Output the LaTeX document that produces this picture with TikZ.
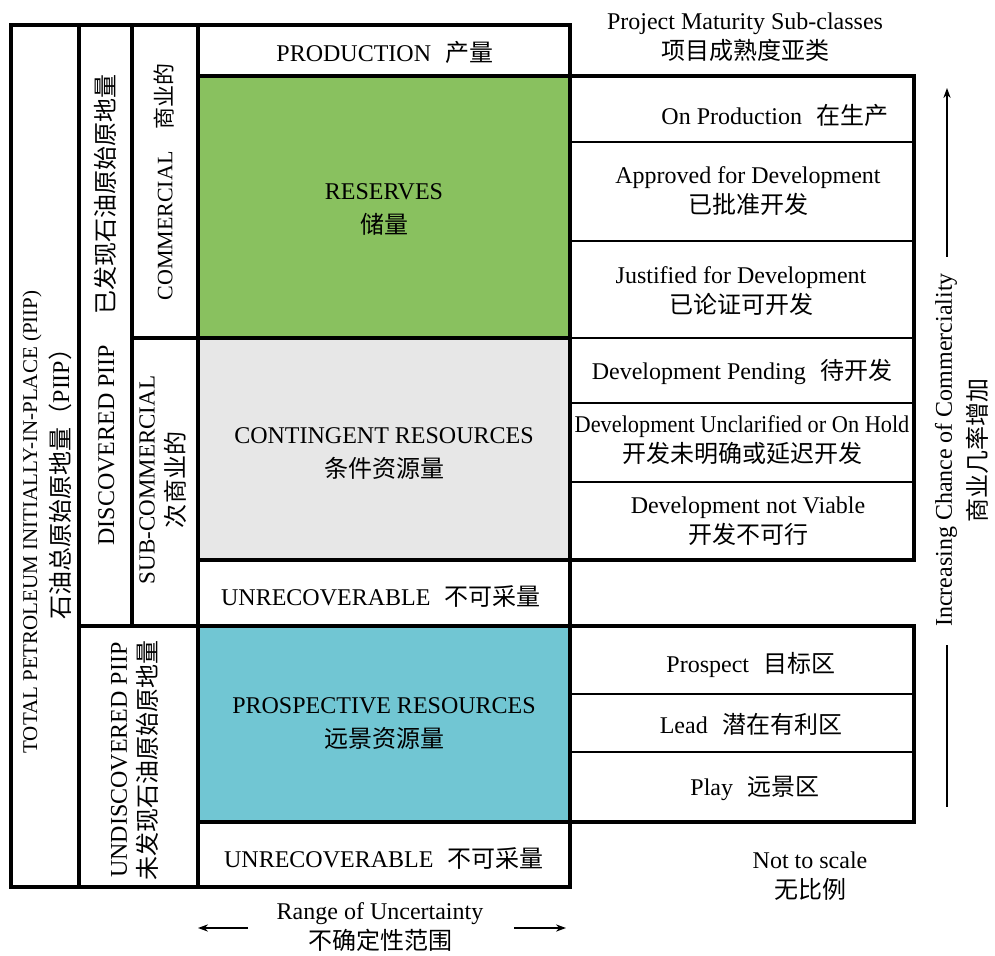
\documentclass[tikz,border=0pt]{standalone}
\usepackage{fontspec}
\usepackage{graphicx}
\setmainfont{Liberation Serif}
\newfontfamily\cjkfont{Noto Sans CJK SC}
\usetikzlibrary{arrows.meta}

% Chinese text is set in the CJK family
\newcommand\zh[1]{{\cjkfont #1}}
\newcommand\labelgap{\hspace{0.6em}}

\definecolor{reservegreen}{RGB}{137,193,95}
\definecolor{contgrey}{RGB}{231,231,231}
\definecolor{prospblue}{RGB}{113,198,211}

\tikzset{
  heavy/.style={line width=1.8pt},
  light/.style={line width=0.65pt},
  lbl/.style={inner sep=0pt, align=center, font=\fontsize{12}{17}\selectfont},
  sublbl/.style={inner sep=0pt, align=center, font=\fontsize{12}{15}\selectfont},
  vlbl/.style={inner sep=0pt, align=center, rotate=90},
  uarrow/.style={line width=0.6pt, -{Stealth[length=5pt,width=3.6pt]}},
  plainline/.style={line width=0.6pt}
}

\begin{document}
\begin{tikzpicture}[x=0.5pt,y=-0.5pt]
\useasboundingbox (0,0) rectangle (995,956);

% ---- coloured resource classes ----
\fill[reservegreen] (198,76) rectangle (570,338);
\fill[contgrey] (198,338) rectangle (570,560);
\fill[prospblue] (198,626) rectangle (570,822);

% ---- project maturity sub-class dividers ----
\draw[light] (570,142) -- (914,142);
\draw[light] (570,241) -- (914,241);
\draw[light] (570,338) -- (914,338);
\draw[light] (570,403) -- (914,403);
\draw[light] (570,482) -- (914,482);
\draw[light] (570,694) -- (914,694);
\draw[light] (570,752) -- (914,752);

% ---- main frame ----
\draw[heavy] (11,25) rectangle (570,887);
\draw[heavy] (79,25) -- (79,887);
\draw[heavy] (132,25) -- (132,626);
\draw[heavy] (198,25) -- (198,887);
\draw[heavy] (79,626) -- (570,626);
\draw[heavy] (132,338) -- (570,338);
\draw[heavy] (198,76) -- (570,76);
\draw[heavy] (198,560) -- (570,560);
\draw[heavy] (198,822) -- (570,822);
\draw[heavy] (570,76) rectangle (914,560);
\draw[heavy] (570,626) rectangle (914,822);

% ---- left classification columns ----
\node[vlbl, font=\fontsize{10.5}{14}\selectfont] (totalen) at (32,522)
  {TOTAL PETROLEUM INITIALLY-IN-PLACE (PIIP)};
\node[vlbl, font=\fontsize{12}{14}\selectfont] (totalzh) at (60,478)
  {\zh{石油总原始原地量（}PIIP\zh{）}};
\node[vlbl, font=\fontsize{12}{15}\selectfont] (discovered) at (105,310)
  {DISCOVERED PIIP\hspace{1.25em}\zh{已发现石油原始原地量}};
\node[vlbl, font=\fontsize{12}{15}\selectfont] (undiscovered) at (135,760)
  {UNDISCOVERED PIIP\\\zh{未发现石油原始原地量}};
\node[vlbl, font=\fontsize{11}{15}\selectfont] (commercial) at (164,182)
  {COMMERCIAL\hspace{1em}\zh{商业的}};
\node[vlbl, font=\fontsize{11.5}{15}\selectfont] (subcommercial) at (163,480)
  {SUB-COMMERCIAL\\\zh{\fontsize{12}{15}\selectfont 次商业的}};

% ---- resource classes ----
\node[lbl] (production) at (385,52) {PRODUCTION\labelgap\zh{产量}};
\node[lbl] (reserves) at (384,209) {RESERVES\\\zh{储量}};
\node[lbl] (contingent) at (384,454) {CONTINGENT RESOURCES\\\zh{条件资源量}};
\node[lbl] (unrecA) at (381,596) {UNRECOVERABLE\labelgap\zh{不可采量}};
\node[lbl] (prospective) at (384,724) {PROSPECTIVE RESOURCES\\\zh{远景资源量}};
\node[lbl] (unrecB) at (384,858) {UNRECOVERABLE\labelgap\zh{不可采量}};

% ---- project maturity sub-classes ----
\node[sublbl] (maturity) at (745,37) {Project Maturity Sub-classes\\\zh{项目成熟度亚类}};
\node[sublbl] (onprod) at (775,115) {On Production\labelgap\zh{在生产}};
\node[sublbl] (approved) at (748,191) {Approved for Development\\\zh{已批准开发}};
\node[sublbl] (justified) at (741,291) {Justified for Development\\\zh{已论证可开发}};
\node[sublbl] (pending) at (742,372) {Development Pending\labelgap\zh{待开发}};
\node[sublbl] (unclarified) at (742,440)
  {\scalebox{0.93}[1]{Development Unclarified or On Hold}\\\zh{开发未明确或延迟开发}};
\node[sublbl] (notviable) at (748,521) {Development not Viable\\\zh{开发不可行}};
\node[sublbl] (prospect) at (751,665) {Prospect\labelgap\zh{目标区}};
\node[sublbl] (lead) at (751,724) {Lead\labelgap\zh{潜在有利区}};
\node[sublbl] (play) at (755,788) {Play\labelgap\zh{远景区}};

\node[sublbl] (notscale) at (810,876) {Not to scale\\\zh{无比例}};

% ---- range of uncertainty ----
\node[sublbl] (range) at (380,927) {Range of Uncertainty\\\zh{不确定性范围}};
\coordinate (rangeLa) at (248,928);
\coordinate (rangeLb) at (198,928);
\coordinate (rangeRa) at (514,928);
\coordinate (rangeRb) at (566,928);
\draw[uarrow] (rangeLa) -- (rangeLb);
\draw[uarrow] (rangeRa) -- (rangeRb);

% ---- chance of commerciality ----
\node[vlbl, font=\fontsize{12}{17.5}\selectfont] (chance) at (962,450)
  {Increasing Chance of Commerciality\\\zh{商业几率增加}};
\coordinate (chanceTa) at (947,257);
\coordinate (chanceTb) at (947,88);
\coordinate (chanceBa) at (947,645);
\coordinate (chanceBb) at (947,807);
\draw[uarrow] (chanceTa) -- (chanceTb);
\draw[plainline] (chanceBa) -- (chanceBb);

\end{tikzpicture}
\end{document}
